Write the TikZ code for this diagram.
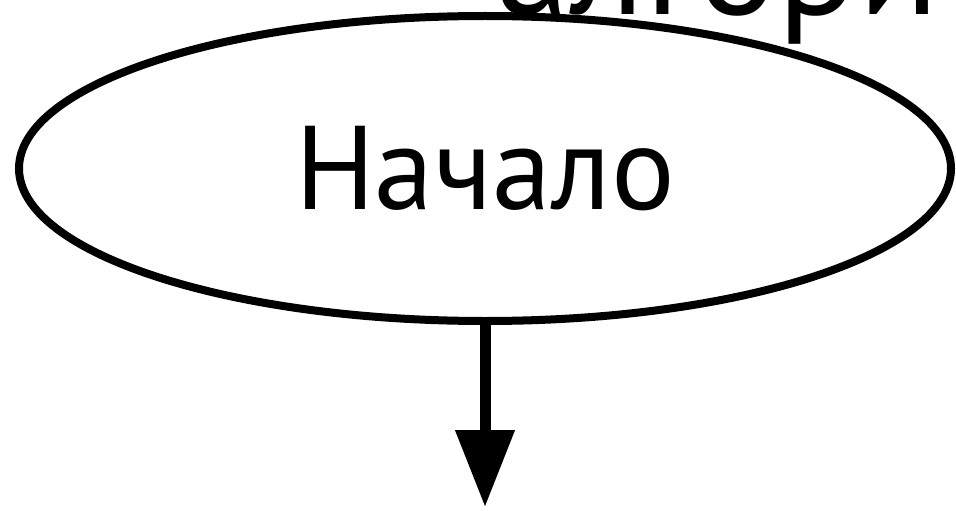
\documentclass[tikz,border=0pt]{standalone}
\usepackage{fontspec}
\setmainfont{PT Sans}
\usepackage{tikz}
\usetikzlibrary{shapes.geometric, arrows.meta, positioning}
\tikzstyle{startstop} = [ellipse, minimum width=932pt, minimum height=305pt, inner sep=0pt, text centered, draw=black, line width=8pt, font=\fontsize{119pt}{128pt}\selectfont]
\tikzstyle{title} = [inner sep=0pt, anchor=base west, font=\fontsize{149pt}{160pt}\selectfont]
\tikzstyle{arrow} = [line width=11pt,-{Triangle[length=77pt,width=57pt]}]

\begin{document}
\begin{tikzpicture}[x=1pt,y=-1pt]
            \useasboundingbox (0,0) rectangle (956,511);
            \clip (0,0) rectangle (956,511);
            \node (title1) [title] at (496,15) {алгори};
            \node (start) [startstop] at (485,168.5) {Начало};
            \coordinate [below=182pt of start] (next);

            \draw [arrow] (start.south) -- (next);
        \end{tikzpicture}
\end{document}
